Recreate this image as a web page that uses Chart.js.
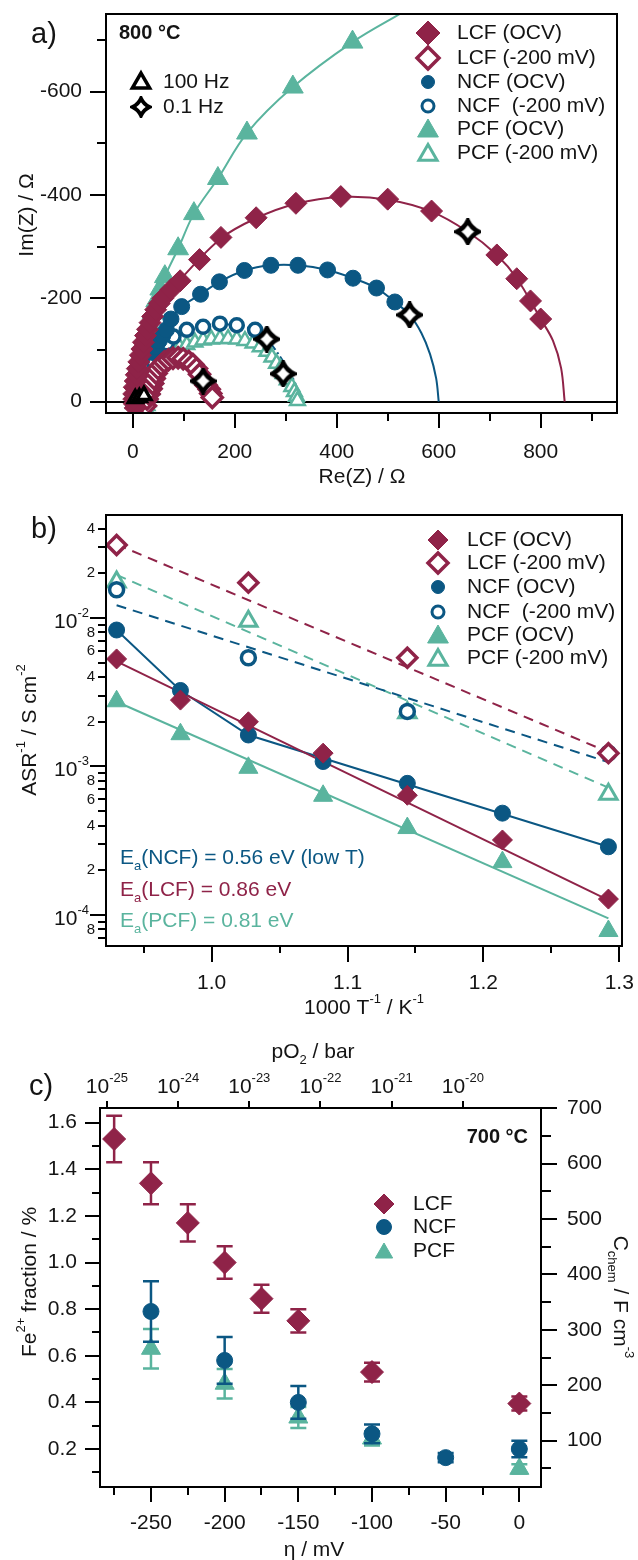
<!DOCTYPE html>
<html>
<head>
<meta charset="utf-8">
<script src="https://cdn.jsdelivr.net/npm/chart.js@4.4.0/dist/chart.umd.min.js"></script>
<style>
  body { margin: 0; background: #fff; width: 638px; height: 1560px; position: relative; overflow: hidden; }
  canvas { position: absolute; left: 0; }
</style>
</head>
<body>
<canvas id="nyquist" width="638" height="490" style="top:0;width:638px;height:490px"></canvas>
<canvas id="arrhenius" width="638" height="540" style="top:490px;width:638px;height:540px"></canvas>
<canvas id="fe2plus" width="638" height="530" style="top:1030px;width:638px;height:530px"></canvas>
<script>
// ---------- a) impedance spectra at 800 °C, [Re(Z), Im(Z)] in Ohm ----------
const lcfOcv = [[5, 12], [3, 4], [2, -5], [2, -15], [3, -28], [5, -40], [7, -52], [9, -64], [12, -77], [15, -90], [18, -102], [21, -115], [25, -128], [29, -140], [34, -153], [39, -165], [45, -178], [52, -190], [59, -200], [75, -217], [93, -234], [131, -275], [173, -318], [242, -356], [320, -384], [408, -397], [500, -392], [586, -369], [657, -329], [714, -284], [753, -238], [780, -195], [800, -160]];
const lcfOcvFit = [[3, 4], [3, -40], [12, -80], [25, -128], [45, -178], [93, -236], [173, -316], [242, -355], [320, -383], [408, -396], [500, -391], [586, -368], [657, -329], [714, -284], [753, -239], [800, -160], [824, -118], [840, -65], [847, 0]];
const lcfBias = [[25, 8], [28, -5], [32, -15], [36, -25], [39, -35], [42, -45], [46, -55], [50, -64], [56, -71], [62, -77], [70, -81], [79, -84], [89, -85], [99, -83], [110, -78], [118, -72], [125, -64], [131, -53], [138, -40], [144, -32], [150, -24], [153, -16], [156, -8]];
const lcfBiasFit = [[28, 0], [40, -42], [56, -71], [89, -85], [125, -64], [150, -24], [157, 0]];
const ncfOcv = [[40, -95], [46, -106], [52, -118], [59, -128], [66, -139], [75, -160], [96, -184], [133, -208], [170, -232], [219, -254], [271, -264], [324, -264], [382, -255], [432, -239], [478, -220], [514, -193], [543, -168]];
const ncfOcvFit = [[36, -85], [52, -118], [75, -160], [96, -184], [133, -208], [170, -232], [219, -254], [271, -264], [324, -264], [382, -255], [432, -239], [478, -220], [514, -193], [543, -168], [566, -133], [583, -92], [595, -45], [600, 0]];
const ncfBias = [[42, -75], [50, -94], [67, -113], [80, -126], [106, -139], [138, -145], [171, -151], [204, -148], [240, -139], [263, -121]];
const ncfBiasFit = [[35, -55], [50, -94], [80, -126], [138, -145], [171, -150], [204, -147], [240, -138], [263, -121], [283, -96], [300, -70], [316, -42], [326, -15], [330, 0]];
const pcfOcv = [[4, 2], [6, -5], [7, -18], [9, -32], [11, -48], [14, -66], [18, -85], [22, -105], [27, -127], [33, -150], [39, -172], [46, -195], [54, -218], [63, -242], [89, -296], [120, -364], [167, -432], [224, -520], [314, -609], [431, -696]];
const pcfOcvFit = [[4, 0], [9, -32], [22, -105], [46, -195], [63, -242], [89, -296], [120, -364], [167, -432], [224, -520], [314, -609], [431, -696], [530, -754]];
const pcfBias = [[27, 16], [28, 8], [30, 0], [33, -12], [37, -23], [41, -35], [44, -45], [47, -55], [53, -70], [60, -87], [70, -95], [80, -100], [92, -105], [106, -110], [122, -115], [138, -119], [154, -121], [171, -122], [187, -122], [204, -121], [220, -118], [236, -113], [250, -106], [263, -97], [273, -86], [282, -74], [290, -64], [295, -54], [303, -42], [312, -29], [317, -19], [321, -10], [323, -2]];
const pcfBiasFit = [[30, 0], [47, -55], [80, -100], [138, -119], [171, -122], [204, -121], [263, -97], [295, -54], [321, -10], [325, 0]];
const freq100Hz = [[5, -6], [13, -8], [22, -12]];
const freq01Hz = [[657, -329], [543, -168], [138, -40], [263, -121], [295, -54]];

// ---------- b) Arrhenius plot ----------
const invT = [0.930, 0.977, 1.027, 1.082, 1.144, 1.214, 1.292];
const asrLcfOcv = [5.3e-3, 2.8e-3, 2.0e-3, 1.23e-3, 6.4e-4, 3.2e-4, 1.28e-4];
const asrNcfOcv = [8.3e-3, 3.25e-3, 1.63e-3, 1.08e-3, 7.7e-4, 4.85e-4, 2.88e-4];
const asrPcfOcv = [2.75e-3, 1.65e-3, 9.8e-4, 6.35e-4, 3.85e-4, 2.27e-4, 7.8e-5];
const invTBias = [0.930, 1.027, 1.144, 1.292];
const asrLcfBias = [3.1e-2, 1.73e-2, 5.4e-3, 1.23e-3];
const asrNcfBias = [1.55e-2, 5.4e-3, 2.35e-3, 1.23e-3];
const asrPcfBias = [1.75e-2, 9.5e-3, 2.3e-3, 6.5e-4];
const fitLcfOcv = [[0.930, 5.1e-3], [1.292, 1.26e-4]];
const fitPcfOcv = [[0.930, 2.73e-3], [1.292, 9.5e-5]];
const lineNcfOcv = [[0.930, 8.3e-3], [0.977, 3.25e-3], [1.027, 1.63e-3], [1.292, 2.88e-4]];
const fitLcfBias = [[0.930, 3.13e-2], [1.292, 1.25e-3]];
const fitNcfBias = [[0.930, 1.22e-2], [1.292, 1.07e-3]];
const fitPcfBias = [[0.930, 1.95e-2], [1.292, 7.2e-4]];

// ---------- c) Fe2+ fraction vs overpotential at 700 °C ----------
const etaLcf = [-275, -250, -225, -200, -175, -150, -100, 0];
const feLcf = [1.53, 1.34, 1.17, 1.00, 0.845, 0.75, 0.53, 0.395];
const errLcf = [0.10, 0.09, 0.08, 0.07, 0.06, 0.05, 0.04, 0.03];
const etaNcf = [-250, -200, -150, -100, -50, 0];
const feNcf = [0.79, 0.58, 0.40, 0.265, 0.163, 0.20];
const errNcf = [0.13, 0.10, 0.07, 0.04, 0.02, 0.035];
const etaPcf = [-250, -200, -150, -100, 0];
const fePcf = [0.63, 0.48, 0.335, 0.245, 0.115];
const errPcf = [0.085, 0.063, 0.045, 0.03, 0.02];

const LCF = '#8f2348', NCF = '#0b5783', PCF = '#5ab49e', INK = '#141414';
const FAMILY = '"Liberation Sans", Arial, Helvetica, sans-serif';
const font = (size, bold) => (bold ? 'bold ' : '') + size + 'px ' + FAMILY;

// text made of runs: [text] normal, [text,'sup'] raised, [text,'sub'] lowered
function rich(ctx, runs, x, y, size, align, color) {
  ctx.save();
  ctx.fillStyle = color || INK;
  ctx.textBaseline = 'middle';
  ctx.textAlign = 'left';
  const parts = runs.map(r => {
    const mode = r[1] || '';
    const s = mode ? Math.round(size * 0.64) : size;
    ctx.font = font(s);
    const dy = mode === 'sup' ? -size * 0.42 : mode === 'sub' ? size * 0.38 : 0;
    return { t: r[0], s, dy, w: ctx.measureText(r[0]).width };
  });
  const total = parts.reduce((a, p) => a + p.w, 0);
  let cx = align === 'center' ? x - total / 2 : align === 'right' ? x - total : x;
  for (const p of parts) { ctx.font = font(p.s); ctx.fillText(p.t, cx, y + p.dy); cx += p.w; }
  ctx.restore();
}
function richTurned(ctx, runs, x, y, size, angle, color) {
  ctx.save();
  ctx.translate(x, y);
  ctx.rotate(angle);
  rich(ctx, runs, 0, 0, size, 'center', color);
  ctx.restore();
}
function text(ctx, s, x, y, size, align, color, bold) {
  ctx.save();
  ctx.font = font(size, bold);
  ctx.fillStyle = color || INK;
  ctx.textAlign = align || 'left';
  ctx.textBaseline = 'middle';
  ctx.fillText(s, x, y);
  ctx.restore();
}
function frame(chart) {
  const ctx = chart.ctx, a = chart.chartArea;
  ctx.save();
  ctx.strokeStyle = '#000';
  ctx.lineWidth = 2;
  ctx.strokeRect(a.left, a.top, a.right - a.left, a.bottom - a.top);
  ctx.restore();
}
function tickMarks(chart, id, values, len) {
  const ctx = chart.ctx, a = chart.chartArea, sc = chart.scales[id];
  ctx.save();
  ctx.strokeStyle = '#000';
  ctx.lineWidth = 2;
  ctx.beginPath();
  for (const v of values) {
    if (v < sc.min || v > sc.max) continue;
    const p = Math.round(sc.getPixelForValue(v));
    if (sc.position === 'left') { ctx.moveTo(a.left - len, p); ctx.lineTo(a.left, p); }
    else if (sc.position === 'right') { ctx.moveTo(a.right, p); ctx.lineTo(a.right + len, p); }
    else if (sc.position === 'top') { ctx.moveTo(p, a.top - len); ctx.lineTo(p, a.top); }
    else { ctx.moveTo(p, a.bottom); ctx.lineTo(p, a.bottom + len); }
  }
  ctx.stroke();
  ctx.restore();
}

// 0.1 Hz marker: four-pointed star
function starImage(size, lw) {
  const c = document.createElement('canvas');
  c.width = c.height = size;
  const g = c.getContext('2d');
  const m = size / 2, r = m - 2.5, k = r * 0.32;
  g.beginPath();
  g.moveTo(m, m - r);
  g.quadraticCurveTo(m + k, m - k, m + r, m);
  g.quadraticCurveTo(m + k, m + k, m, m + r);
  g.quadraticCurveTo(m - k, m + k, m - r, m);
  g.quadraticCurveTo(m - k, m - k, m, m - r);
  g.closePath();
  g.fillStyle = '#fff';
  g.fill();
  g.lineWidth = lw;
  g.lineJoin = 'miter';
  g.strokeStyle = '#000';
  g.stroke();
  return c;
}
const starData = starImage(27, 4.5);
const starKey = starImage(22, 4);

// marker styles shared by datasets and legend keys
const mk = (shape, radius, fill, stroke, width) => ({ shape, radius, fill, stroke, width });
function pointOpts(m) {
  return { pointStyle: m.shape, pointRadius: m.radius, pointBackgroundColor: m.fill, pointBorderColor: m.stroke, pointBorderWidth: m.width, pointHoverRadius: m.radius };
}
function drawKey(ctx, m, x, y) {
  ctx.save();
  ctx.fillStyle = m.fill;
  ctx.strokeStyle = m.stroke;
  ctx.lineWidth = m.width;
  Chart.helpers.drawPoint(ctx, { pointStyle: m.shape, radius: m.radius, rotation: 0, borderWidth: m.width }, x, y);
  ctx.restore();
}
function markers(data, m) { return Object.assign({ data, showLine: false }, pointOpts(m)); }
function curve(data, color, dash, tension) {
  return { data, showLine: true, borderColor: color, borderWidth: 2, borderDash: dash || [], pointRadius: 0, tension: tension || 0 };
}
const xy = (xs, ys) => xs.map((x, i) => ({ x, y: ys[i] }));

const common = {
  responsive: false,
  animation: false,
  events: [],
  devicePixelRatio: 1,
  plugins: { legend: { display: false }, tooltip: { enabled: false } }
};
const bare = { ticks: { display: false }, grid: { display: false }, border: { display: false } };

// ================= a) Nyquist plot =================
const aKeys = [
  ['LCF (OCV)', mk('rectRot', 12, LCF, LCF, 1)],
  ['LCF (-200 mV)', mk('rectRot', 11, '#fff', LCF, 3.5)],
  ['NCF (OCV)', mk('circle', 6.5, NCF, NCF, 1)],
  ['NCF  (-200 mV)', mk('circle', 6, '#fff', NCF, 3)],
  ['PCF (OCV)', mk('triangle', 12, PCF, PCF, 1)],
  ['PCF (-200 mV)', mk('triangle', 10.5, '#fff', PCF, 3)]
];
const nyquistDeco = {
  id: 'nyquistDeco',
  beforeDatasetsDraw(chart) {
    const ctx = chart.ctx, a = chart.chartArea, y0 = Math.round(chart.scales.y.getPixelForValue(0));
    ctx.save();
    ctx.strokeStyle = '#000';
    ctx.lineWidth = 2;
    ctx.beginPath();
    ctx.moveTo(a.left, y0);
    ctx.lineTo(a.right, y0);
    ctx.stroke();
    ctx.restore();
  },
  afterDraw(chart) {
    const ctx = chart.ctx, a = chart.chartArea, xs = chart.scales.x, ys = chart.scales.y;
    frame(chart);
    tickMarks(chart, 'x', [0, 200, 400, 600, 800], 15);
    tickMarks(chart, 'x', [100, 300, 500, 700, 900], 8);
    tickMarks(chart, 'y', [0, -200, -400, -600], 16);
    tickMarks(chart, 'y', [-100, -300, -500, -700], 9);
    for (const v of [0, 200, 400, 600, 800]) text(ctx, String(v), xs.getPixelForValue(v), a.bottom + 39, 21, 'center');
    for (const v of [0, -200, -400, -600]) text(ctx, String(v), a.left - 24, ys.getPixelForValue(v), 21, 'right');
    text(ctx, 'Re(Z) / Ω', 362, 477, 21, 'center');
    richTurned(ctx, [['Im(Z) / Ω']], 27, 215, 21, -Math.PI / 2);
    text(ctx, 'a)', 31, 35, 29, 'left');
    text(ctx, '800 °C', 119, 33, 20, 'left', INK, true);
    drawKey(ctx, mk('triangle', 10, '#fff', '#000', 3.5), 141, 83);
    text(ctx, '100 Hz', 163, 82, 21, 'left');
    ctx.drawImage(starKey, 141 - 11, 107 - 11);
    text(ctx, '0.1 Hz', 163, 107, 21, 'left');
    const rows = [33, 58, 82, 106, 129, 153];
    aKeys.forEach((k, i) => {
      drawKey(ctx, k[1], 428, rows[i] + (k[1].shape === 'triangle' ? 2 : 0));
      text(ctx, k[0], 457, rows[i], 21, 'left');
    });
  }
};
new Chart(document.getElementById('nyquist'), {
  type: 'scatter',
  data: {
    datasets: [
      markers(freq01Hz, mk(starData, 10, '#000', '#000', 1)),
      markers(freq100Hz, mk('triangle', 8, '#fff', '#000', 3.5)),
      markers(lcfOcv, mk('rectRot', 11, LCF, LCF, 1)),
      markers(lcfBias, mk('rectRot', 10, '#fff', LCF, 3.5)),
      markers(ncfOcv, mk('circle', 8, NCF, NCF, 1)),
      markers(ncfBias, mk('circle', 6.5, '#fff', NCF, 3.5)),
      markers(pcfOcv, mk('triangle', 12, PCF, PCF, 1)),
      markers(pcfBias, mk('triangle', 8.5, '#fff', PCF, 2.5)),
      curve(lcfOcvFit, LCF, [], 0.35),
      curve(lcfBiasFit, LCF, [5, 4], 0.35),
      curve(ncfOcvFit, NCF, [], 0.35),
      curve(ncfBiasFit, NCF, [7, 3, 2, 3], 0.35),
      curve(pcfOcvFit, PCF, [], 0.35),
      curve(pcfBiasFit, PCF, [6, 4], 0.35)
    ]
  },
  options: Object.assign({}, common, {
    layout: { padding: { top: 14, right: 21, left: 0, bottom: 0 } },
    scales: {
      x: Object.assign({ type: 'linear', min: -52.4, max: 949.6, afterFit: s => { s.height = 77; } }, bare),
      y: Object.assign({ type: 'linear', min: -750.4, max: 21.9, reverse: true, afterFit: s => { s.width = 106; } }, bare)
    }
  }),
  plugins: [nyquistDeco]
});

// ================= b) Arrhenius plot =================
const bKeys = [
  ['LCF (OCV)', mk('rectRot', 10, LCF, LCF, 1)],
  ['LCF (-200 mV)', mk('rectRot', 10, '#fff', LCF, 3.5)],
  ['NCF (OCV)', mk('circle', 6.5, NCF, NCF, 1)],
  ['NCF  (-200 mV)', mk('circle', 6, '#fff', NCF, 3)],
  ['PCF (OCV)', mk('triangle', 12, PCF, PCF, 1)],
  ['PCF (-200 mV)', mk('triangle', 10.5, '#fff', PCF, 3)]
];
const logMinor = [];
for (const d of [1e-5, 1e-4, 1e-3, 1e-2]) for (let m = 2; m <= 9; m++) logMinor.push({ v: m * d, m });
const arrheniusDeco = {
  id: 'arrheniusDeco',
  afterDraw(chart) {
    const ctx = chart.ctx, a = chart.chartArea, xs = chart.scales.x, ys = chart.scales.y;
    frame(chart);
    tickMarks(chart, 'x', [1.0, 1.1, 1.2, 1.3], 16);
    tickMarks(chart, 'x', [0.95, 1.05, 1.15, 1.25], 7);
    tickMarks(chart, 'y', [1e-2, 1e-3, 1e-4], 16);
    tickMarks(chart, 'y', logMinor.map(t => t.v), 8);
    for (const v of [1.0, 1.1, 1.2, 1.3]) text(ctx, v.toFixed(1), xs.getPixelForValue(v), a.bottom + 37, 21, 'center');
    for (const e of [2, 3, 4]) rich(ctx, [['10'], ['-' + e, 'sup']], a.left - 17, ys.getPixelForValue(Math.pow(10, -e)) + 4, 21, 'right');
    for (const t of logMinor) {
      if (t.m % 2 || t.v < ys.min || t.v > ys.max) continue;
      text(ctx, String(t.m), a.left - 11, ys.getPixelForValue(t.v), 15, 'right');
    }
    rich(ctx, [['1000 T'], ['-1', 'sup'], [' / K'], ['-1', 'sup']], 364, 518, 21, 'center');
    richTurned(ctx, [['ASR'], ['-1', 'sup'], [' / S cm'], ['-2', 'sup']], 30, 240, 21, -Math.PI / 2);
    text(ctx, 'b)', 31, 40, 29, 'left');
    const rows = [50, 73, 97, 122, 145, 168];
    bKeys.forEach((k, i) => {
      drawKey(ctx, k[1], 438, rows[i] + (k[1].shape === 'triangle' ? 2 : 0));
      text(ctx, k[0], 467, rows[i], 21, 'left');
    });
    rich(ctx, [['E'], ['a', 'sub'], ['(NCF) = 0.56 eV (low T)']], 120, 368, 21, 'left', NCF);
    rich(ctx, [['E'], ['a', 'sub'], ['(LCF) = 0.86 eV']], 120, 400, 21, 'left', LCF);
    rich(ctx, [['E'], ['a', 'sub'], ['(PCF) = 0.81 eV']], 120, 431, 21, 'left', PCF);
  }
};
const toPts = pairs => pairs.map(p => ({ x: p[0], y: p[1] }));
new Chart(document.getElementById('arrhenius'), {
  type: 'scatter',
  data: {
    datasets: [
      markers(xy(invTBias, asrLcfBias), mk('rectRot', 9.5, '#fff', LCF, 3.5)),
      markers(xy(invTBias, asrNcfBias), mk('circle', 7, '#fff', NCF, 3.5)),
      markers(xy(invTBias, asrPcfBias), mk('triangle', 10, '#fff', PCF, 3)),
      markers(xy(invT, asrLcfOcv), mk('rectRot', 10, LCF, LCF, 1)),
      markers(xy(invT, asrNcfOcv), mk('circle', 8, NCF, NCF, 1)),
      markers(xy(invT, asrPcfOcv), mk('triangle', 11, PCF, PCF, 1)),
      curve(toPts(fitLcfOcv), LCF),
      curve(toPts(lineNcfOcv), NCF),
      curve(toPts(fitPcfOcv), PCF),
      curve(toPts(fitLcfBias), LCF, [10, 7]),
      curve(toPts(fitNcfBias), NCF, [10, 7]),
      curve(toPts(fitPcfBias), PCF, [10, 7])
    ]
  },
  options: Object.assign({}, common, {
    layout: { padding: { top: 25, right: 16, left: 0, bottom: 0 } },
    scales: {
      x: Object.assign({ type: 'linear', min: 0.9222, max: 1.302, afterFit: s => { s.height = 84; } }, bare),
      y: Object.assign({ type: 'logarithmic', min: Math.pow(10, -4.2088), max: Math.pow(10, -1.3064), afterFit: s => { s.width = 106; } }, bare)
    }
  }),
  plugins: [arrheniusDeco]
});

// ================= c) Fe2+ fraction =================
const cKeys = [
  ['LCF', mk('rectRot', 10, LCF, LCF, 1)],
  ['NCF', mk('circle', 7.5, NCF, NCF, 1)],
  ['PCF', mk('triangle', 10, PCF, PCF, 1)]
];
const errorBars = {
  id: 'errorBars',
  beforeDatasetDraw(chart, args) {
    const ds = chart.data.datasets[args.index];
    if (!ds.errors) return;
    const ctx = chart.ctx, xs = chart.scales.x, ys = chart.scales.y;
    ctx.save();
    ctx.strokeStyle = ds.pointBorderColor;
    ctx.lineWidth = 2.5;
    ctx.beginPath();
    ds.data.forEach((p, i) => {
      const e = ds.errors[i];
      const px = xs.getPixelForValue(p.x);
      const top = ys.getPixelForValue(p.y + e), bot = ys.getPixelForValue(p.y - e);
      ctx.moveTo(px, top); ctx.lineTo(px, bot);
      ctx.moveTo(px - 8, top); ctx.lineTo(px + 8, top);
      ctx.moveTo(px - 8, bot); ctx.lineTo(px + 8, bot);
    });
    ctx.stroke();
    ctx.restore();
  }
};
const feDeco = {
  id: 'feDeco',
  afterDraw(chart) {
    const ctx = chart.ctx, a = chart.chartArea, xs = chart.scales.x, ys = chart.scales.y, ys2 = chart.scales.y2, xt = chart.scales.x2;
    frame(chart);
    const etaMajor = [-250, -200, -150, -100, -50, 0];
    tickMarks(chart, 'x', etaMajor, 15);
    tickMarks(chart, 'x', [-275, -225, -175, -125, -75, -25], 8);
    const feMajor = [0.2, 0.4, 0.6, 0.8, 1.0, 1.2, 1.4, 1.6];
    tickMarks(chart, 'y', feMajor, 15);
    tickMarks(chart, 'y', [0.1, 0.3, 0.5, 0.7, 0.9, 1.1, 1.3, 1.5], 8);
    const capMajor = [100, 200, 300, 400, 500, 600, 700];
    tickMarks(chart, 'y2', capMajor, 16);
    tickMarks(chart, 'y2', [50, 150, 250, 350, 450, 550, 650], 10);
    const decades = [-25, -24, -23, -22, -21, -20];
    tickMarks(chart, 'x2', decades.map(e => Math.pow(10, e)), 7);
    for (const v of etaMajor) text(ctx, String(v), xs.getPixelForValue(v), a.bottom + 36, 21, 'center');
    for (const v of feMajor) text(ctx, v.toFixed(1), a.left - 23, ys.getPixelForValue(v), 21, 'right');
    for (const v of capMajor) text(ctx, String(v), a.right + 26, ys2.getPixelForValue(v), 21, 'left');
    for (const e of decades) rich(ctx, [['10'], [String(e), 'sup']], xt.getPixelForValue(Math.pow(10, e)), 57, 21, 'center');
    text(ctx, 'η / mV', 314, 520, 21, 'center');
    rich(ctx, [['pO'], ['2', 'sub'], [' / bar']], 313, 22, 21, 'center');
    richTurned(ctx, [['Fe'], ['2+', 'sup'], [' fraction / %']], 30, 252, 21, -Math.PI / 2);
    richTurned(ctx, [['C'], ['chem', 'sub'], [' / F cm'], ['-3', 'sup']], 620, 267, 21, Math.PI / 2);
    text(ctx, 'c)', 29, 57, 29, 'left');
    text(ctx, '700 °C', 528, 107, 20, 'right', INK, true);
    const rows = [174, 197, 221];
    cKeys.forEach((k, i) => {
      drawKey(ctx, k[1], 384, rows[i] + (k[1].shape === 'triangle' ? 2 : 0));
      text(ctx, k[0], 413, rows[i], 21, 'left');
    });
  }
};
new Chart(document.getElementById('fe2plus'), {
  type: 'scatter',
  data: {
    datasets: [
      Object.assign(markers(xy(etaLcf, feLcf), mk('rectRot', 11.5, LCF, LCF, 1)), { errors: errLcf }),
      Object.assign(markers(xy(etaNcf, feNcf), mk('circle', 8, NCF, NCF, 1)), { errors: errNcf }),
      Object.assign(markers(xy(etaPcf, fePcf), mk('triangle', 11, PCF, PCF, 1)), { errors: errPcf })
    ]
  },
  options: Object.assign({}, common, {
    layout: { padding: 0 },
    scales: {
      x: Object.assign({ type: 'linear', position: 'bottom', min: -284.6, max: 14.7, afterFit: s => { s.height = 73; } }, bare),
      x2: Object.assign({ type: 'logarithmic', position: 'top', display: true, min: Math.pow(10, -25.084), max: Math.pow(10, -18.902), afterFit: s => { s.height = 78; } }, bare),
      y: Object.assign({ type: 'linear', position: 'left', min: 0.037, max: 1.663, afterFit: s => { s.width = 100; } }, bare),
      y2: Object.assign({ type: 'linear', position: 'right', display: true, min: 16.4, max: 700.5, afterFit: s => { s.width = 97; } }, bare)
    }
  }),
  plugins: [errorBars, feDeco]
});
</script>
</body>
</html>
